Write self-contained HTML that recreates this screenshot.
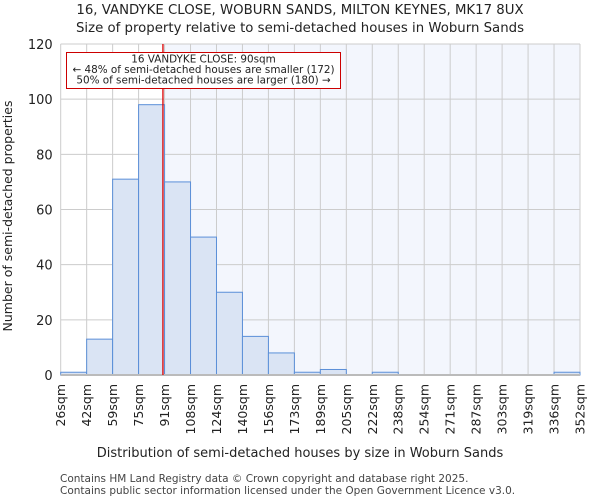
<!DOCTYPE html>
<html><head><meta charset="utf-8"><style>
body{margin:0;background:#fff;font-family:"DejaVu Sans","Liberation Sans",sans-serif}
</style></head><body>
<svg width="600" height="500" id="c" font-family="DejaVu Sans, Liberation Sans, sans-serif">
<text x="300" y="14" text-anchor="middle" font-size="13.3" fill="#222">16, VANDYKE CLOSE, WOBURN SANDS, MILTON KEYNES, MK17 8UX</text>
<text x="300" y="32" text-anchor="middle" font-size="13.3" fill="#222">Size of property relative to semi-detached houses in Woburn Sands</text>
<g id="plot"></g>
<text x="300" y="457" text-anchor="middle" font-size="13" fill="#222">Distribution of semi-detached houses by size in Woburn Sands</text>
<text transform="translate(12,216) rotate(-90)" text-anchor="middle" font-size="12.5" fill="#222">Number of semi-detached properties</text>
<text x="60" y="482" font-size="10.5" fill="#444">Contains HM Land Registry data © Crown copyright and database right 2025.</text>
<text x="60" y="494" font-size="10.5" fill="#444">Contains public sector information licensed under the Open Government Licence v3.0.</text>
</svg>
<script>
const binLabels=["26sqm","42sqm","59sqm","75sqm","91sqm","108sqm","124sqm","140sqm","156sqm","173sqm","189sqm","205sqm","222sqm","238sqm","254sqm","271sqm","287sqm","303sqm","319sqm","336sqm","352sqm"];
const binEdges=[26,42,59,75,91,108,124,140,156,173,189,205,222,238,254,271,287,303,319,336,352];
const counts=[1,13,71,98,70,50,30,14,8,1,2,0,1,0,0,0,0,0,0,1];
const yTicks=[0,20,40,60,80,100,120];
const propertySize=90;
const annotation=["16 VANDYKE CLOSE: 90sqm","← 48% of semi-detached houses are smaller (172)","50% of semi-detached houses are larger (180) →"];
const L=60.7,R=580,T=44,B=375,NS="http://www.w3.org/2000/svg";
const nb=counts.length,bw=(R-L)/nb;
function xIdx(i){return L+i*bw;}
function xVal(v){for(let i=0;i<nb;i++){if(v<=binEdges[i+1])return xIdx(i)+(v-binEdges[i])/(binEdges[i+1]-binEdges[i])*bw;}return R;}
function y(v){return B-v/120*(B-T);}
const g=document.getElementById('plot');
function mk(t,a,p){const e=document.createElementNS(NS,t);for(const k in a)e.setAttribute(k,a[k]);(p||g).appendChild(e);return e;}
const bg=mk('rect',{x:L,y:T,width:R-L,height:B-T,fill:'#fff'});


const px=xVal(propertySize);
const sh=mk('rect',{x:px,y:T,width:R-px,height:B-T,fill:'#f3f6fd'});


yTicks.forEach(t=>{
const l=mk('line',{x1:L,x2:R,y1:y(t),y2:y(t),stroke:'#ccc','stroke-width':1});


const tx=mk('text',{x:L-8,y:y(t)+5,'text-anchor':'end','font-size':13,fill:'#222'});
tx.textContent=t;


});
binLabels.forEach((s,i)=>{
const X=xIdx(i);
const l=mk('line',{x1:X,x2:X,y1:T,y2:B,stroke:'#ccc','stroke-width':1});


const tx=mk('text',{transform:`translate(${X+4.5},${B+9}) rotate(-90)`,'text-anchor':'end','font-size':12.5,fill:'#222'});
tx.textContent=s;


});
counts.forEach((c,i)=>{
if(c<=0)return;
const r=mk('rect',{x:xIdx(i),y:y(c),width:bw,height:B-y(c),fill:'#dae4f4',stroke:'#5b8fd8','stroke-width':1});


});
const ax=mk('line',{x1:L,x2:R,y1:B,y2:B,stroke:'#bbb','stroke-width':2});


const rl=mk('line',{x1:px,x2:px,y1:T,y2:B,stroke:'#d00','stroke-width':1.3});


const box=mk('rect',{x:66.5,y:52.5,width:274,height:36,fill:'#fff',stroke:'#c00','stroke-width':1});


annotation.forEach((s,i)=>{
const tx=mk('text',{x:203.5,y:62.5+i*10.5,'text-anchor':'middle','font-size':10.4,fill:'#222'});
tx.textContent=s;


});
</script>
</body></html>
